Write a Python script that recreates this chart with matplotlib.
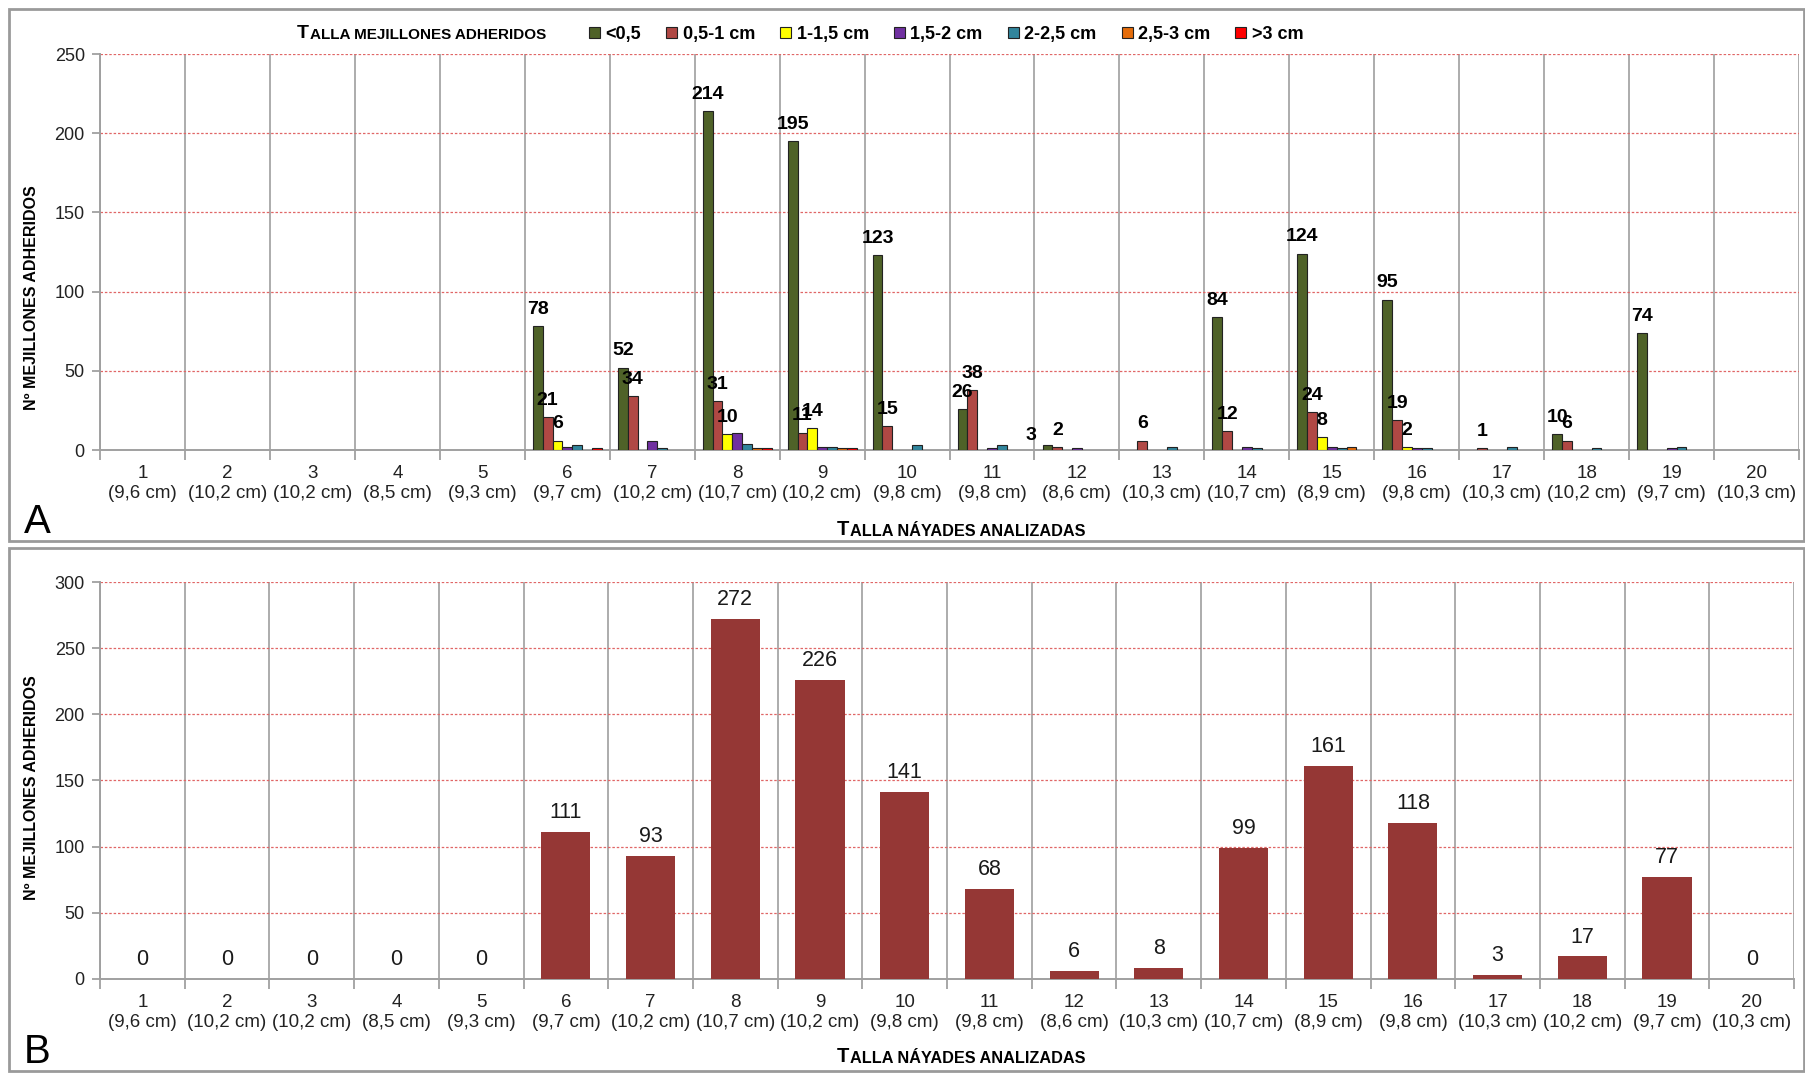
import numpy as np
import matplotlib.pyplot as plt
from matplotlib.patches import Patch, Rectangle

plt.rcParams['font.family'] = ['Liberation Sans', 'DejaVu Sans']

# talla de cada náyade analizada (cm)
tallas = ["9,6", "10,2", "10,2", "8,5", "9,3", "9,7", "10,2", "10,7", "10,2", "9,8",
          "9,8", "8,6", "10,3", "10,7", "8,9", "9,8", "10,3", "10,2", "9,7", "10,3"]

# mejillones adheridos por clase de talla
s_lt05 = [0, 0, 0, 0, 0, 78, 52, 214, 195, 123, 26, 3, 0, 84, 124, 95, 0, 10, 74, 0]
s_05_1 = [0, 0, 0, 0, 0, 21, 34, 31, 11, 15, 38, 2, 6, 12, 24, 19, 1, 6, 0, 0]
s_1_15 = [0, 0, 0, 0, 0, 6, 0, 10, 14, 0, 0, 0, 0, 0, 8, 2, 0, 0, 0, 0]
s_15_2 = [0, 0, 0, 0, 0, 2, 6, 11, 2, 0, 1, 1, 0, 2, 2, 1, 0, 0, 1, 0]
s_2_25 = [0, 0, 0, 0, 0, 3, 1, 4, 2, 3, 3, 0, 2, 1, 1, 1, 2, 1, 2, 0]
s_25_3 = [0, 0, 0, 0, 0, 0, 0, 1, 1, 0, 0, 0, 0, 0, 2, 0, 0, 0, 0, 0]
s_gt3 = [0, 0, 0, 0, 0, 1, 0, 1, 1, 0, 0, 0, 0, 0, 0, 0, 0, 0, 0, 0]

clases = ["<0,5", "0,5-1 cm", "1-1,5 cm", "1,5-2 cm", "2-2,5 cm", "2,5-3 cm", ">3 cm"]
colores = ["#4f6228", "#b04844", "#ffff00", "#7030a0", "#31859c", "#e46c0a", "#ff0000"]

# total por náyade
totales = [0, 0, 0, 0, 0, 111, 93, 272, 226, 141, 68, 6, 8, 99, 161, 118, 3, 17, 77, 0]

series = [s_lt05, s_05_1, s_1_15, s_15_2, s_2_25, s_25_3, s_gt3]
x = np.arange(len(tallas))
etiquetas = [f"{i+1}\n({t} cm)" for i, t in enumerate(tallas)]

fig = plt.figure(figsize=(18.06, 10.74), dpi=100)
axA = fig.add_axes([0.0554, 0.581, 0.9407, 0.3687])
axB = fig.add_axes([0.0554, 0.0885, 0.938, 0.3696])

# marcos de los paneles
fig.add_artist(Rectangle((0.005, 0.4963), 0.9939, 0.4953, transform=fig.transFigure,
                         fill=False, ec='#9a9a9a', lw=2))
fig.add_artist(Rectangle((0.005, 0.0028), 0.9939, 0.487, transform=fig.transFigure,
                         fill=False, ec='#9a9a9a', lw=2))


def estilo(ax, ymax):
    ax.set_xlim(-0.5, len(x) - 0.5)
    ax.set_ylim(0, ymax)
    ax.set_yticks(range(0, ymax + 1, 50))
    ax.set_xticks(x)
    ax.set_xticklabels(etiquetas)
    ax.set_xticks(np.arange(-0.5, len(x), 1), minor=True)
    ax.tick_params(axis='x', which='major', length=0, pad=11, labelsize=13.5, labelcolor='#222222')
    ax.tick_params(axis='x', which='minor', length=7, color='#a0a0a0', width=1.3)
    ax.tick_params(axis='y', length=6, color='#a0a0a0', width=1.3, labelsize=13,
                   labelcolor='#222222', pad=5)
    for b in np.arange(-0.5, len(x), 1):
        ax.axvline(b, color='#a6a6a6', lw=1.3, zorder=0)
    ax.yaxis.grid(True, color='#e06666', ls=(0, (2, 1.5)), lw=0.9)
    ax.set_axisbelow(True)
    for s in ['top', 'right']:
        ax.spines[s].set_visible(False)
    for s in ['left', 'bottom']:
        ax.spines[s].set_color('#a0a0a0')
        ax.spines[s].set_linewidth(1.4)


estilo(axA, 250)
estilo(axB, 300)

# Panel A
w = 0.116
for i, (s, c) in enumerate(zip(series, colores)):
    axA.bar(x - 0.405 + w * (i + 0.5), s, w, color=c, edgecolor='#222222',
            linewidth=[0.8 if v else 0 for v in s], zorder=3)

desplaza = {(11, 0): (-12, -5)}
for i in range(3):
    for g, v in enumerate(series[i]):
        if v > 0:
            dx, dy = desplaza.get((g, i), (0, 0))
            axA.annotate(str(v), (g - 0.405 + w * (i + 0.5), v), xytext=(dx, 12 + dy),
                         textcoords='offset points', ha='center', va='center',
                         fontsize=14, fontweight='bold', zorder=5)

handles = [Patch(facecolor=c, edgecolor='#222222', lw=0.8, label=n) for n, c in zip(clases, colores)]
fig.legend(handles=handles, loc='center', bbox_to_anchor=(0.524, 0.968), ncol=7, frameon=False,
           handlelength=0.6, handleheight=0.6, handletextpad=0.3, columnspacing=1.4,
           prop={'weight': 'bold', 'size': 13})

# Panel B
axB.bar(x, totales, 0.58, color='#953735', zorder=3)
for g, v in enumerate(totales):
    axB.annotate(str(v), (g, v), xytext=(0, 14), textcoords='offset points',
                 ha='center', va='center', fontsize=15.5, color='#1a1a1a')


def versalitas(ax, xf, yf, primera, resto, grande, chica):
    t = fig.text(xf, yf, primera, fontsize=grande, fontweight='bold', va='bottom')
    ax.annotate(resto, xy=(1, 0), xycoords=t, xytext=(0.5, 0), textcoords='offset points',
                va='bottom', fontsize=chica, fontweight='bold', annotation_clip=False)


versalitas(axA, 0.4635, 0.4985, "T", "ALLA NÁYADES ANALIZADAS", 14.5, 11.7)
versalitas(axB, 0.4635, 0.0075, "T", "ALLA NÁYADES ANALIZADAS", 14.5, 11.7)
versalitas(axA, 0.1645, 0.9605, "T", "ALLA MEJILLONES ADHERIDOS", 14, 11)

for yc in [0.7225, 0.267]:
    fig.text(0.0172, yc, "Nº MEJILLONES ADHERIDOS", rotation=90, fontsize=11.5,
             fontweight='bold', ha='center', va='center')

fig.text(0.0133, 0.5037, "A", fontsize=29, va='baseline')
fig.text(0.0133, 0.0102, "B", fontsize=29, va='baseline')

fig.savefig('out.png', dpi=100)
